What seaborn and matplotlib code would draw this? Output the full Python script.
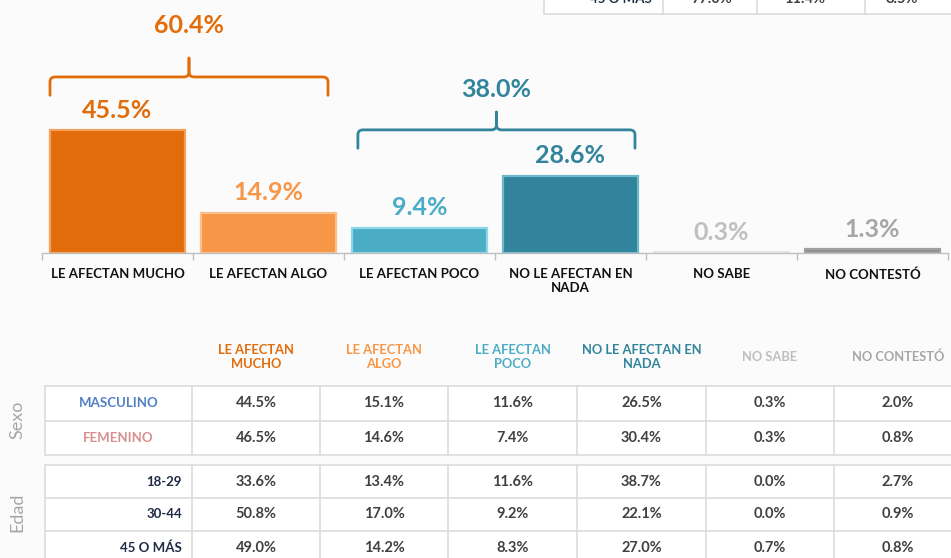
import numpy as np
import pandas as pd
import matplotlib
matplotlib.use("Agg")
from matplotlib import pyplot as plt
from matplotlib.path import Path
from matplotlib.patches import PathPatch, Rectangle
import seaborn as sns

# ---- datos ----
categorias = ["LE AFECTAN MUCHO", "LE AFECTAN ALGO", "LE AFECTAN POCO",
              "NO LE AFECTAN EN\nNADA", "NO SABE", "NO CONTESTÓ"]
totales = [45.5, 14.9, 9.4, 28.6, 0.3, 1.3]
suma_afectan = 60.4
suma_no_afectan = 38.0

encabezados = ["LE AFECTAN\nMUCHO", "LE AFECTAN\nALGO", "LE AFECTAN\nPOCO",
               "NO LE AFECTAN EN\nNADA", "NO SABE", "NO CONTESTÓ"]
sexo_filas = ["MASCULINO", "FEMENINO"]
sexo_vals = [[44.5, 15.1, 11.6, 26.5, 0.3, 2.0],
             [46.5, 14.6, 7.4, 30.4, 0.3, 0.8]]
edad_filas = ["18-29", "30-44", "45 O MÁS"]
edad_vals = [[33.6, 13.4, 11.6, 38.7, 0.0, 2.7],
             [50.8, 17.0, 9.2, 22.1, 0.0, 0.9],
             [49.0, 14.2, 8.3, 27.0, 0.7, 0.8]]
# tabla cortada arriba a la derecha
corte_fila = "45 O MÁS"
corte_vals = [77.0, 11.4, 8.5]

# ---- estilos ----
col_barra = ["#E36C0A", "#F79646", "#4BACC6", "#31849B", "#D9D9D9", "#8C8C8C"]
col_borde = ["#F5A05A", "#FBC08A", "#8ED6EA", "#6FB8CC", "#E6E6E6", "#A0A0A0"]
col_texto = ["#E36C0A", "#F79646", "#4BACC6", "#31849B", "#BFBFBF", "#A6A6A6"]
naranja = "#E36C0A"
azul = "#31849B"
gris_linea = "#DCDCDC"
fondo = "#FBFBFB"

sns.set_theme(style="white")
plt.rcParams["font.family"] = ["Lato", "DejaVu Sans"]

fig = plt.figure(figsize=(9.51, 5.58), dpi=100, facecolor=fondo)

# ---- grafico de barras ----
ax = fig.add_axes([42 / 951, (558 - 253) / 558, 906 / 951, 253 / 558])
ax.set_facecolor("none")
df = pd.DataFrame({"cat": categorias, "pct": totales})
sns.barplot(data=df, x="cat", y="pct", hue="cat", palette=col_barra,
            legend=False, width=0.89, ax=ax, saturation=1)
for p, ec in zip(ax.patches, col_borde):
    p.set_edgecolor(ec)
    p.set_linewidth(1.6)

ax.set_xlim(-0.5, 5.5)
ax.set_ylim(0, 93.7)
ax.set_yticks([])
ax.set_ylabel("")
ax.set_xlabel("")
sns.despine(ax=ax, left=True)
ax.spines["bottom"].set_color("#BFBFBF")
ax.spines["bottom"].set_linewidth(1.0)
ax.set_xticks(range(len(categorias)))
ax.set_xticklabels(categorias, fontsize=9.5, fontweight="bold", color="#111111",
                   linespacing=1.2, va="top")
ax.tick_params(axis="x", which="major", length=0, pad=11)
ax.set_xticks(np.arange(-0.5, 6.0, 1.0), minor=True)
ax.tick_params(axis="x", which="minor", length=5, color="#BFBFBF", width=1,
               direction="out", bottom=True)

for i, v in enumerate(totales):
    ax.annotate(f"{v:.1f}%", (i, v), xytext=(0, 14.5), textcoords="offset points",
                ha="center", va="center", fontsize=18, fontweight="bold",
                color=col_texto[i])


def llave(ax, x0, x1, y, h, hm, color):
    xm = (x0 + x1) / 2
    rx, ry = 0.035, 1.8
    for xe, s in ((x0, 1), (x1, -1)):
        verts = [(xe, y - h), (xe, y - ry), (xe, y), (xe + s * rx, y),
                 (xm - s * rx, y), (xm, y), (xm, y + ry), (xm, y + hm)]
        codes = [Path.MOVETO, Path.LINETO, Path.CURVE3, Path.CURVE3,
                 Path.LINETO, Path.CURVE3, Path.CURVE3, Path.LINETO]
        ax.add_patch(PathPatch(Path(verts, codes), fill=False, edgecolor=color,
                               lw=2.0, capstyle="round", joinstyle="round",
                               clip_on=False))


llave(ax, -0.447, 1.394, 65.2, 6.8, 7.0, naranja)
ax.text(0.474, 84.4, f"{suma_afectan:.1f}%", ha="center", va="center",
        fontsize=18, fontweight="bold", color=naranja)
llave(ax, 1.592, 3.427, 45.6, 6.8, 6.6, azul)
ax.text(2.51, 60.4, f"{suma_no_afectan:.1f}%", ha="center", va="center",
        fontsize=18, fontweight="bold", color=azul)

# ---- tablas (coordenadas en pixeles) ----
tx = fig.add_axes([0, 0, 1, 1])
tx.set_xlim(0, 951)
tx.set_ylim(558, 0)
tx.axis("off")
tx.set_facecolor("none")

x_cols = [45, 192, 320, 448, 577, 706, 834, 962]
centros = [(x_cols[k] + x_cols[k + 1]) / 2 for k in range(1, 7)]

for k, h in enumerate(encabezados):
    tx.text(centros[k], 357, h, ha="center", va="center", fontsize=9.3,
            fontweight="bold", color=col_texto[k], linespacing=1.2)


def bloque(y_top, alto, filas, vals, colores, alinear):
    n = len(filas)
    tx.add_patch(Rectangle((x_cols[0], y_top), 951 - x_cols[0], alto * n,
                           facecolor="white", edgecolor="none", zorder=0))
    for r in range(n + 1):
        tx.plot([x_cols[0], 951], [y_top + r * alto] * 2, color=gris_linea, lw=1.2)
    for xc in x_cols[:-1]:
        tx.plot([xc, xc], [y_top, y_top + alto * n], color=gris_linea, lw=1.2)
    for r, (f, fila) in enumerate(zip(filas, vals)):
        yc = y_top + alto * (r + 0.5)
        if alinear == "center":
            tx.text((x_cols[0] + x_cols[1]) / 2, yc, f, ha="center", va="center",
                    fontsize=9.5, fontweight="bold", color=colores[r])
        else:
            tx.text(x_cols[1] - 10, yc, f, ha="right", va="center",
                    fontsize=9.5, fontweight="bold", color=colores[r])
        for k, v in enumerate(fila):
            tx.text(centros[k], yc, f"{v:.1f}%", ha="center", va="center",
                    fontsize=10.5, fontweight="bold", color="#404040")


bloque(386, 34.5, sexo_filas, sexo_vals, ["#4F7FC6", "#D98F8F"], "center")
bloque(465, 33, edad_filas, edad_vals, ["#1F2A44"] * 3, "right")

tx.text(17, 420, "Sexo", rotation=90, ha="center", va="center", fontsize=13,
        color="#A6A6A6")
tx.text(17, 512, "Edad", rotation=90, ha="center", va="center", fontsize=13,
        color="#A6A6A6")

# tabla cortada arriba
tx.add_patch(Rectangle((544, -5), 951 - 544, 19, facecolor="white",
                       edgecolor="none", zorder=0))
tx.plot([544, 951], [14, 14], color=gris_linea, lw=1.2)
for xc in [544, 663, 757, 865]:
    tx.plot([xc, xc], [0, 14], color=gris_linea, lw=1.2)
tx.text(621, -1, corte_fila, ha="center", va="center", fontsize=9.5,
        fontweight="bold", color="#1F2A44")
for xc, v in zip([712, 805, 902], corte_vals):
    tx.text(xc, -1, f"{v:.1f}%", ha="center", va="center", fontsize=10.5,
            fontweight="bold", color="#404040")

fig.savefig("out.png", dpi=100, facecolor=fondo)
